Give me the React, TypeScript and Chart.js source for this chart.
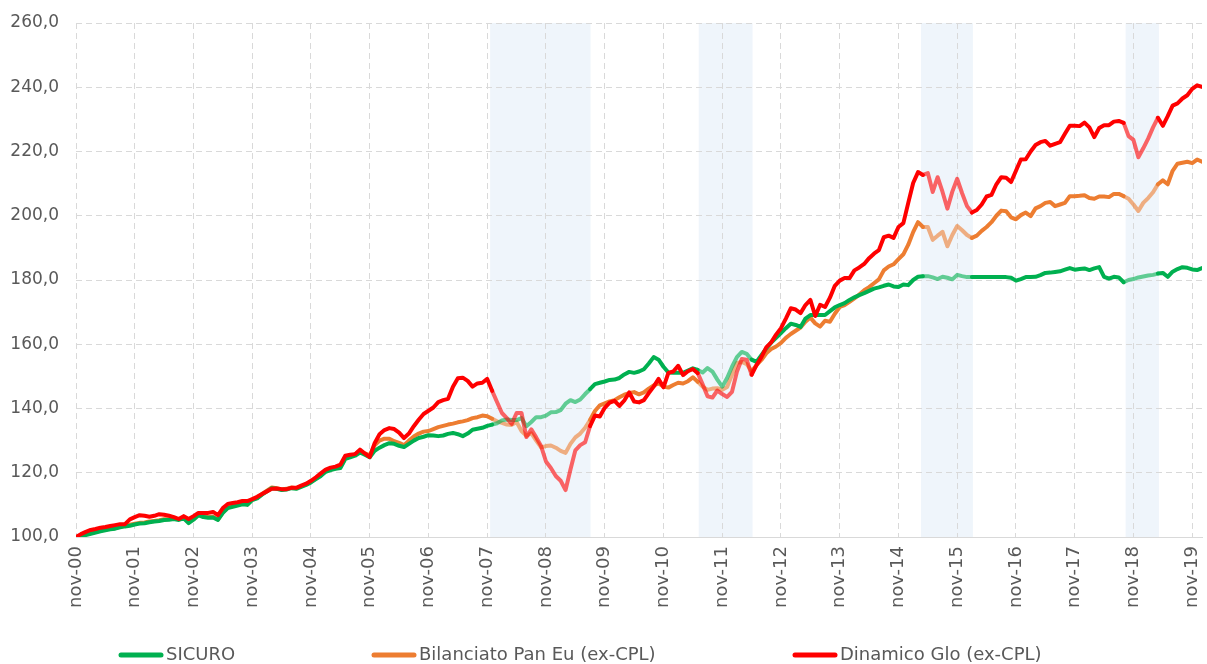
import React, { useEffect, useRef } from "react";
import { Chart, registerables } from "chart.js";

Chart.register(...registerables);

// Year tick labels (one every 12 months, starting Nov 2000)
const yearTicks = [
  "nov-00", "nov-01", "nov-02", "nov-03", "nov-04", "nov-05", "nov-06", "nov-07", "nov-08", "nov-09",
  "nov-10", "nov-11", "nov-12", "nov-13", "nov-14", "nov-15", "nov-16", "nov-17", "nov-18", "nov-19",
];

const seriesLabels = ["SICURO", "Bilanciato Pan Eu (ex-CPL)", "Dinamico Glo (ex-CPL)"];

// Monthly index values, Nov 2000 (index 0) to Jan 2020 (index 230)
const sicuro = [
  100.0, 100.2, 100.6, 101.0, 101.4, 101.8, 102.1, 102.4, 102.6, 103.0,
  103.3, 103.5, 103.9, 104.2, 104.3, 104.6, 104.8, 105.0, 105.3, 105.4,
  105.6, 105.3, 105.8, 104.3, 105.4, 106.8, 106.2, 106.0, 106.1, 105.3,
  107.5, 109.0, 109.4, 109.8, 110.2, 110.0, 111.5, 112.0, 113.2, 114.2,
  115.2, 115.0, 114.6, 114.8, 115.2, 115.0, 115.6, 116.2, 117.0, 118.0,
  119.0, 120.3, 120.8, 121.2, 121.5, 124.3, 124.8, 125.3, 126.3, 125.6,
  124.8, 126.8, 127.8, 128.6, 129.2, 129.0, 128.4, 128.0, 129.0, 130.0,
  130.8, 131.2, 131.7, 131.6, 131.4, 131.6, 132.1, 132.4, 132.0, 131.4,
  132.2, 133.4, 133.7, 134.0, 134.6, 135.0, 135.4, 136.3, 136.6, 136.4,
  136.4, 137.0, 134.5, 135.8, 137.3, 137.3, 137.8, 138.8, 138.9, 139.5,
  141.5, 142.6, 142.0, 142.8, 144.5, 146.0, 147.6, 148.0, 148.4, 148.9,
  149.0, 149.5, 150.6, 151.4, 151.1, 151.5, 152.2, 154.0, 156.0, 155.2,
  153.0, 151.2, 151.1, 151.1, 151.1, 151.8, 152.5, 152.0, 151.2, 152.6,
  151.5, 149.0, 146.8, 149.5, 153.0, 156.0, 157.6, 157.0, 155.2, 154.5,
  156.6, 158.7, 160.5, 162.0, 163.5, 165.0, 166.4, 166.0, 165.4, 168.0,
  169.1, 169.1, 169.1, 169.1, 170.3, 171.5, 172.2, 172.8, 173.8, 174.6,
  175.3, 175.9, 176.6, 177.3, 177.7, 178.2, 178.6, 178.0, 177.8, 178.6,
  178.4, 180.0, 181.0, 181.2, 181.2, 180.8, 180.3, 181.0, 180.7, 180.2,
  181.6, 181.2, 180.9, 180.9, 180.9, 180.9, 180.9, 180.9, 180.9, 180.9,
  180.9, 180.7, 179.8, 180.3, 180.9, 180.9, 181.0, 181.5, 182.2, 182.3,
  182.5, 182.7, 183.2, 183.7, 183.2, 183.4, 183.6, 183.1, 183.6, 184.0,
  181.0, 180.4, 181.0, 180.8, 179.3, 180.0, 180.3, 180.8, 181.1, 181.4,
  181.6, 182.0, 182.2, 181.0, 182.6, 183.4, 184.0, 183.8, 183.3, 183.1,
  183.7,
];

const bilanciato = [
  100.0, 100.4, 100.8, 101.2, 101.6, 102.0, 102.3, 102.6, 102.8, 103.2,
  103.5, 103.8, 104.1, 104.4, 104.5, 104.8, 105.0, 105.2, 105.5, 105.6,
  105.8, 105.5, 106.0, 104.6, 105.6, 107.0, 106.4, 106.2, 106.3, 105.5,
  107.7, 109.2, 109.6, 110.0, 110.4, 110.2, 111.7, 112.2, 113.4, 114.4,
  115.4, 115.2, 114.8, 115.0, 115.4, 115.2, 115.8, 116.4, 117.2, 118.2,
  119.2, 120.5, 121.0, 121.4, 121.7, 124.6, 125.2, 125.8, 126.8, 126.0,
  125.5, 128.5, 130.0, 130.6, 130.6, 129.8, 129.3, 128.6, 130.0, 131.3,
  132.2, 132.8, 133.0, 133.6, 134.2, 134.6, 135.0, 135.3, 135.7, 136.0,
  136.4, 137.0, 137.3, 137.8, 137.6, 136.8, 136.0, 135.5, 135.0, 134.9,
  135.8, 133.0, 131.5, 132.3, 130.0, 127.9, 128.3, 128.5, 127.8, 126.8,
  126.2, 129.0, 131.0, 132.2, 134.0, 136.4, 139.2, 141.0, 141.6, 142.2,
  142.6, 143.5, 144.3, 144.8, 145.1, 144.4, 145.0, 146.2, 147.2, 147.8,
  146.8, 146.5, 147.3, 148.0, 147.8, 148.5, 149.7, 148.3, 146.8, 145.8,
  146.2, 146.3, 145.8, 146.7, 150.5, 154.2, 154.5, 153.8, 151.6, 153.5,
  155.1, 157.2, 158.5, 159.3, 160.4, 162.0, 163.2, 164.2, 165.2, 167.0,
  168.3, 166.5, 165.5, 167.3, 167.0, 169.5, 171.6, 172.2, 173.2, 174.3,
  175.5, 176.8, 177.8, 179.0, 180.2, 183.0, 184.2, 184.9, 186.5, 188.0,
  191.0, 194.9, 198.0, 196.5, 196.5, 192.5, 193.8, 195.0, 190.5, 194.0,
  196.8, 195.5, 194.0, 193.1, 193.8, 195.3, 196.5, 198.0, 200.0, 201.6,
  201.4, 199.5, 198.9, 200.2, 201.0, 199.9, 202.3, 203.0, 204.0, 204.3,
  203.0, 203.5, 204.0, 206.1, 206.1, 206.2, 206.4, 205.5, 205.3, 206.0,
  206.0, 205.8, 206.8, 206.8, 206.1, 205.3, 203.5, 201.5, 204.0, 205.5,
  207.3, 209.8, 211.0, 209.8, 214.0, 216.2, 216.5, 216.8, 216.4, 217.5,
  216.8,
];

const dinamico = [
  100.0, 100.9, 101.6, 102.2, 102.5, 102.9, 103.1, 103.4, 103.7, 104.0,
  104.0, 105.5, 106.2, 106.8, 106.6, 106.3, 106.6, 107.1, 106.9, 106.6,
  106.2, 105.6, 106.5, 105.6, 106.5, 107.5, 107.5, 107.5, 107.8, 106.8,
  109.0, 110.3, 110.6, 110.8, 111.2, 111.2, 111.8, 112.5, 113.4, 114.2,
  115.0, 115.1, 114.9, 114.9, 115.3, 115.3, 116.0, 116.6, 117.5, 118.6,
  119.8, 121.0, 121.6, 121.9, 122.5, 125.3, 125.6, 125.8, 127.2, 126.0,
  124.9, 129.2, 132.0, 133.3, 133.9, 133.6, 132.5, 130.8, 132.2, 134.5,
  136.5, 138.3, 139.3, 140.3, 142.0, 142.6, 143.0, 146.8, 149.4, 149.6,
  148.6, 146.8, 147.8, 148.0, 149.2, 145.5, 142.0, 138.6, 137.0, 135.2,
  138.6, 138.6, 131.1, 133.5, 131.0, 128.3, 123.5, 121.5, 119.0, 117.5,
  114.6, 121.0, 127.0, 128.6, 129.5, 134.5, 137.8, 137.5, 140.2, 141.8,
  142.4, 140.8, 142.5, 145.0, 142.2, 141.9, 142.6, 144.8, 146.8, 149.2,
  146.6, 151.1, 151.5, 153.3, 150.4, 151.6, 152.3, 151.0, 147.5, 143.8,
  143.4, 145.6, 144.5, 143.6, 145.2, 151.4, 155.4, 155.2, 150.5, 153.5,
  156.0, 159.0, 160.6, 163.0, 165.0, 168.0, 171.2, 170.8, 169.7, 172.2,
  173.8, 168.8, 172.3, 171.6, 174.5, 178.2, 179.8, 180.6, 180.6, 183.0,
  183.9, 185.0, 186.8, 188.2, 189.3, 193.3, 193.8, 193.1, 196.5, 197.7,
  204.0, 210.2, 213.6, 212.7, 213.3, 207.4, 212.0, 207.4, 202.2, 207.5,
  211.5, 207.0, 203.0, 201.0, 201.8, 203.5, 206.0, 206.5, 209.8, 212.0,
  211.8, 210.5, 214.0, 217.5, 217.6, 220.0, 222.0, 222.9, 223.3, 221.8,
  222.4, 222.9, 225.5, 228.0, 228.0, 227.9, 229.0, 227.5, 224.5, 227.3,
  228.2, 228.2, 229.3, 229.5, 228.9, 224.8, 223.6, 218.2, 221.0, 224.0,
  227.5, 230.5, 228.0, 231.0, 234.3, 235.0, 236.5, 237.5, 239.5, 240.6,
  240.1,
];

// Shaded periods, in month-index units (start, end)
const bands: [number, number][] = [
  [84.6, 105.1],
  [127.2, 138.2],
  [172.6, 183.2],
  [214.4, 221.2],
];

const GREEN = "#00B050";
const ORANGE = "#ED7D31";
const RED = "#FF0000";
const GREEN_FADED = "rgba(0,176,80,0.6)";
const ORANGE_FADED = "rgba(237,125,49,0.6)";
const RED_FADED = "rgba(255,0,0,0.6)";
const BAND_COLOR = "#EFF5FB";
const GRID = "#D9D9D9";
const TEXT = "#595959";
const FONT = "DejaVu Sans";

const inBand = (v: number) => bands.some(([a, b]) => v >= a && v <= b);

const toPoints = (arr: number[]) => arr.map((y, i) => ({ x: i, y }));

const bandPlugin = {
  id: "bandPlugin",
  beforeDraw(chart: any) {
    const { ctx, chartArea, scales } = chart;
    const x = scales.x;
    ctx.save();
    ctx.fillStyle = BAND_COLOR;
    for (const [a, b] of bands) {
      const x0 = x.getPixelForValue(a);
      const x1 = x.getPixelForValue(b);
      ctx.fillRect(x0, chartArea.top, x1 - x0, chartArea.bottom - chartArea.top);
    }
    ctx.restore();
  },
};

const legendStarts = [119, 372, 793];

const legendPlugin = {
  id: "customLegend",
  afterDraw(chart: any) {
    const { ctx } = chart;
    const y = 655;
    ctx.save();
    ctx.font = `18px "${FONT}"`;
    ctx.textBaseline = "middle";
    ctx.textAlign = "left";
    const colors = [GREEN, ORANGE, RED];
    seriesLabels.forEach((label, i) => {
      const x0 = legendStarts[i];
      ctx.strokeStyle = colors[i];
      ctx.lineWidth = 5;
      ctx.lineCap = "round";
      ctx.beginPath();
      ctx.moveTo(x0 + 2, y);
      ctx.lineTo(x0 + 42, y);
      ctx.stroke();
      ctx.fillStyle = TEXT;
      ctx.fillText(label, x0 + 47, y);
    });
    ctx.restore();
  },
};

export default function App() {
  const canvasRef = useRef<HTMLCanvasElement | null>(null);

  useEffect(() => {
    if (!canvasRef.current) return;
    const mk = (label: string, data: number[], color: string, faded: string, order: number) => ({
      label,
      data: toPoints(data),
      borderColor: color,
      backgroundColor: color,
      borderWidth: 4,
      pointRadius: 0,
      pointHoverRadius: 0,
      tension: 0,
      fill: false,
      order,
      borderJoinStyle: "round" as const,
      borderCapStyle: "round" as const,
      segment: {
        borderColor: (c: any) =>
          inBand((c.p0.parsed.x + c.p1.parsed.x) / 2) ? faded : undefined,
      },
    });

    const chart = new Chart(canvasRef.current, {
      type: "line",
      data: {
        datasets: [
          mk(seriesLabels[0], sicuro, GREEN, GREEN_FADED, 1),
          mk(seriesLabels[1], bilanciato, ORANGE, ORANGE_FADED, 2),
          mk(seriesLabels[2], dinamico, RED, RED_FADED, 0),
        ],
      },
      options: {
        responsive: true,
        maintainAspectRatio: false,
        animation: false,
        layout: { padding: { top: 23, right: 5, left: 0, bottom: 27 } },
        plugins: {
          legend: { display: false },
          tooltip: { enabled: false },
        },
        scales: {
          x: {
            type: "linear",
            min: 0,
            max: 230,
            afterFit: (s: any) => {
              s.height = 100;
              s.paddingLeft = 0;
              s.paddingRight = 0;
            },
            ticks: {
              stepSize: 12,
              autoSkip: false,
              includeBounds: false,
              maxRotation: 90,
              minRotation: 90,
              padding: 9,
              color: TEXT,
              font: { family: FONT, size: 18 },
              callback: (v: any) => {
                const n = Number(v);
                return n % 12 === 0 ? yearTicks[n / 12] ?? "" : "";
              },
            },
            grid: { color: GRID, lineWidth: 1, drawTicks: false },
            border: { display: true, color: GRID, width: 1, dash: [6, 4] },
          },
          y: {
            min: 100,
            max: 260,
            afterFit: (s: any) => {
              s.width = 76;
              s.paddingTop = 0;
              s.paddingBottom = 0;
            },
            ticks: {
              stepSize: 20,
              padding: 17,
              color: TEXT,
              font: { family: FONT, size: 17 },
              callback: (v: any) => Number(v).toFixed(1).replace(".", ","),
            },
            grid: { color: GRID, lineWidth: 1, drawTicks: false },
            border: { display: false, dash: [6, 4] },
          },
        },
      },
      plugins: [bandPlugin, legendPlugin],
    });
    return () => chart.destroy();
  }, []);

  return (
    <div style={{ position: "absolute", left: 0, top: 0, width: 1207, height: 664, background: "#fff" }}>
      <canvas ref={canvasRef} />
    </div>
  );
}
